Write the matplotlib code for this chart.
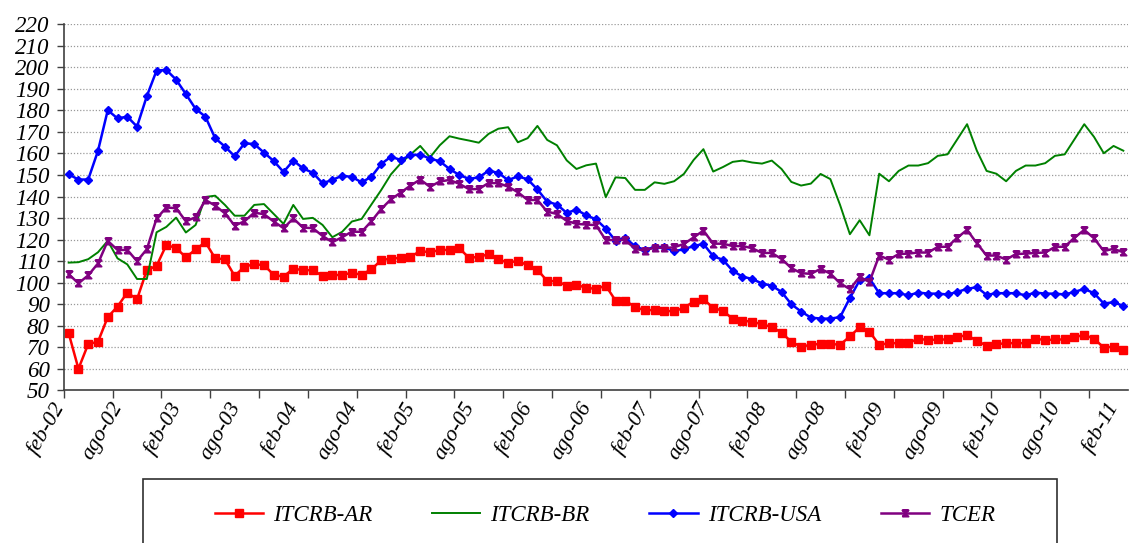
import numpy as np
import matplotlib
matplotlib.use('Agg')
import matplotlib.pyplot as plt
from matplotlib.path import Path
from matplotlib.patches import Rectangle

# monthly categories feb-02 .. feb-11
meses = ['ene', 'feb', 'mar', 'abr', 'may', 'jun', 'jul', 'ago', 'sep', 'oct', 'nov', 'dic']
fechas = [f"{meses[(1 + k) % 12]}-{2 + (1 + k) // 12:02d}" for k in range(109)]
tick_labels = ['feb-02', 'ago-02', 'feb-03', 'ago-03', 'feb-04', 'ago-04', 'feb-05', 'ago-05',
               'feb-06', 'ago-06', 'feb-07', 'ago-07', 'feb-08', 'ago-08', 'feb-09', 'ago-09',
               'feb-10', 'ago-10', 'feb-11']

itcrb_ar = [76.5, 60.0, 71.5, 72.5, 84.0, 88.9, 95.4, 92.3, 105.8, 107.8, 117.5, 116.1, 111.8, 115.4, 118.8, 111.3, 110.9,
            103.1, 107.5, 108.5, 108.2, 103.6, 102.8, 106.5, 105.8, 105.8, 103.1, 103.4, 103.7, 104.5, 103.7, 106.2, 110.4,
            111.2, 111.5, 112.0, 114.7, 114.1, 115.2, 115.2, 116.0, 111.5, 112.0, 113.2, 110.9, 109.2, 110.2, 108.0, 106.0,
            100.8, 100.7, 98.6, 99.0, 97.6, 97.1, 98.6, 91.7, 91.7, 88.6, 87.2, 87.3, 86.9, 86.7, 88.3, 91.2, 92.3,
            88.3, 86.9, 83.2, 82.4, 81.8, 80.7, 79.4, 76.8, 72.5, 70.3, 71.1, 71.6, 71.5, 71.2, 75.0, 79.3, 77.3,
            71.1, 71.9, 71.9, 71.9, 74.0, 73.3, 73.6, 73.6, 74.7, 75.7, 72.9, 70.8, 71.4, 71.9, 71.9, 71.9, 74.0,
            73.3, 73.6, 73.6, 74.7, 75.7, 74.0, 69.8, 70.3, 68.6]

itcrb_br = [109.3, 109.5, 110.9, 114.1, 119.4, 111.3, 108.5, 101.7, 101.7, 123.4, 125.9, 130.2, 123.3, 126.8, 139.8, 140.4, 136.1,
            131.1, 131.1, 136.1, 136.5, 131.9, 127.3, 136.1, 129.6, 130.1, 126.8, 121.1, 123.6, 128.4, 129.6, 136.3, 143.0,
            150.3, 155.4, 159.5, 163.5, 158.2, 163.8, 168.0, 166.9, 166.0, 165.0, 169.1, 171.5, 172.2, 165.2, 167.1, 172.8,
            166.3, 163.8, 156.8, 152.8, 154.5, 155.3, 139.7, 148.9, 148.6, 143.1, 143.1, 146.6, 145.9, 147.1, 150.5, 157.0, 162.0,
            151.6, 153.7, 156.1, 156.7, 155.8, 155.3, 156.7, 152.8, 146.8, 145.1, 146.0, 150.5, 148.1, 136.0, 122.5, 129.0, 122.0,
            150.6, 147.1, 151.9, 154.4, 154.4, 155.5, 158.9, 159.6, 166.6, 173.6, 161.3, 151.9, 150.6, 147.1, 151.9, 154.4, 154.4,
            155.5, 158.9, 159.6, 166.6, 173.6, 167.7, 160.1, 163.5, 161.3]

itcrb_usa = [150.3, 147.9, 147.9, 161.2, 180.1, 176.3, 177.1, 172.5, 186.6, 198.5, 198.8, 194.3, 187.6, 180.7, 177.1, 167.1, 163.2,
             158.7, 164.7, 164.4, 160.4, 156.5, 151.4, 156.7, 153.1, 151.0, 146.2, 147.7, 149.7, 149.1, 146.6, 149.2, 155.1,
             158.5, 157.0, 159.2, 159.5, 157.6, 156.4, 152.8, 150.0, 148.2, 148.9, 152.0, 151.0, 147.6, 149.4, 148.0, 143.3,
             137.6, 136.3, 132.4, 133.9, 131.3, 129.4, 125.1, 119.5, 120.8, 116.9, 115.2, 116.6, 116.4, 114.6, 115.5, 117.0, 118.0,
             112.3, 110.6, 105.5, 102.8, 101.7, 99.6, 98.6, 95.7, 90.0, 86.6, 83.8, 83.3, 83.3, 84.0, 92.9, 101.1, 102.0,
             95.1, 95.1, 95.1, 94.1, 95.4, 94.9, 94.9, 94.5, 95.7, 97.1, 97.9, 94.3, 95.1, 95.1, 95.1, 94.1, 95.4,
             94.9, 94.9, 94.5, 95.7, 97.1, 95.1, 90.3, 90.9, 89.2]

tcer = [103.9, 99.7, 103.4, 108.9, 119.4, 115.2, 115.2, 110.0, 115.5, 129.8, 134.9, 134.6, 128.5, 130.4, 138.4, 135.8, 132.2,
        126.5, 128.5, 132.5, 131.8, 128.4, 125.3, 129.8, 125.6, 125.3, 121.7, 118.8, 121.1, 123.7, 123.6, 128.5, 134.2,
        138.7, 141.8, 145.1, 147.9, 144.5, 147.0, 147.7, 145.9, 143.4, 143.5, 146.3, 146.2, 144.6, 142.0, 138.4, 138.4,
        133.0, 131.9, 128.7, 127.3, 127.0, 126.7, 119.8, 119.8, 119.8, 115.7, 114.9, 116.3, 116.1, 116.4, 118.0, 121.0, 124.2,
        118.1, 118.1, 117.0, 117.0, 116.0, 113.8, 113.8, 111.0, 106.8, 104.4, 104.1, 106.4, 104.2, 99.7, 97.0, 102.7, 100.3,
        112.6, 110.7, 113.3, 113.5, 114.0, 114.0, 116.6, 116.7, 120.9, 124.5, 118.3, 112.6, 112.6, 110.7, 113.3, 113.5, 113.8,
        114.0, 116.6, 116.7, 120.9, 124.5, 120.6, 114.7, 115.7, 114.1]

x = np.arange(len(fechas))

# hourglass-like marker (Excel "star")
reloj = Path([(-1, -1), (1, 1), (-1, 1), (1, -1), (-1, -1), (-1, 1), (1, 1)],
             [Path.MOVETO, Path.LINETO, Path.LINETO, Path.LINETO, Path.LINETO, Path.MOVETO, Path.LINETO])

fuente = 'Liberation Serif'

fig = plt.figure(figsize=(11.29, 5.43), dpi=100)
ax = fig.add_axes([63.8 / 1129, 1 - 390.3 / 543, 1064.4 / 1129, 366.0 / 543])

ax.plot(x, itcrb_ar, color='#ff0000', lw=1.8, marker='s', ms=5.5, label='ITCRB-AR')
ax.plot(x, itcrb_br, color='#008000', lw=1.4, label='ITCRB-BR')
ax.plot(x, itcrb_usa, color='#0000ff', lw=1.8, marker='D', ms=4.5, label='ITCRB-USA')
ax.plot(x, tcer, color='#800080', lw=1.8, marker=reloj, ms=4.5, mew=1.3, label='TCER')

ax.set_xlim(-0.5, len(fechas) - 0.5)
ax.set_ylim(50, 220)
ax.set_yticks(range(50, 221, 10))
ax.set_yticklabels([str(v) for v in range(50, 221, 10)], fontfamily=fuente, fontstyle='italic', fontsize=16.5)

ax.set_xticks(x[::6])
ax.set_xticklabels(tick_labels, rotation=60, ha='right', va='top', fontfamily=fuente,
                   fontstyle='italic', fontsize=16)
ax.set_xticks(np.arange(-0.5, len(fechas) - 1, 5), minor=True)
ax.tick_params(axis='x', which='major', length=0, pad=6)
ax.tick_params(axis='x', which='minor', length=6, width=1, color='#404040', direction='out')
ax.tick_params(axis='y', length=5, width=1, color='#404040', direction='out', pad=5)

for v in range(60, 221, 10):
    ax.axhline(v, color='#9a9a9a', lw=0.9, ls=(0, (1, 1.5)), zorder=0)

for s in ['top', 'right']:
    ax.spines[s].set_visible(False)
for s in ['left', 'bottom']:
    ax.spines[s].set_color('#404040')
    ax.spines[s].set_linewidth(1.2)

# legend box runs off the bottom of the image
fig.add_artist(Rectangle((143 / 1129, 1 - 570 / 543), (1057 - 143) / 1129, (570 - 479) / 543,
                         transform=fig.transFigure, fill=False, edgecolor='#303030', lw=1.2, clip_on=False))
fig.legend(loc='center', bbox_to_anchor=(605 / 1129, 1 - 515 / 543), ncol=4, frameon=False,
           handlelength=2.1, handletextpad=0.45, columnspacing=2.6,
           prop={'family': fuente, 'style': 'italic', 'size': 16.5})

fig.savefig('out.png', dpi=100)
